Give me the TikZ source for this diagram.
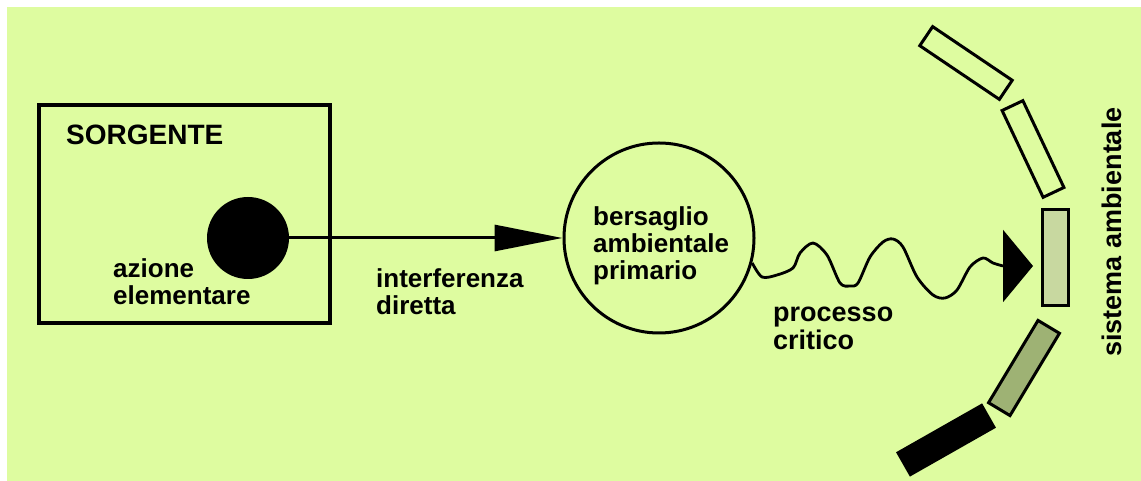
\documentclass[tikz,border=0pt]{standalone}
\usepackage{fontspec}
\setmainfont{Liberation Sans}
\usetikzlibrary{arrows.meta, calc, positioning}
\definecolor{paper}{RGB}{222,252,160}
\definecolor{tint}{RGB}{200,216,160}
\definecolor{shade}{RGB}{158,178,116}

\begin{document}
\begin{tikzpicture}[x=1pt, y=1pt, >=stealth,
  lbl/.style={font=\fontsize{26}{27}\selectfont\bfseries, inner sep=0pt, align=left},
  slab/.style={draw, line width=3pt, minimum width=96pt, minimum height=23pt, inner sep=0pt}]
% background
\fill[white] (0,0) rectangle (1141,481);
\fill[paper] (7,0) rectangle (1141,474);
\useasboundingbox (0,0) rectangle (1141,481);
% source
\node[draw, line width=4.5pt, minimum width=291pt, minimum height=218pt, inner sep=0pt] (sorgente) at (184.5,267) {};
\node[lbl, font=\fontsize{28}{28}\selectfont\bfseries, anchor=base west] (titolo) at (66,336) {SORGENTE};
\node[circle, fill, minimum size=82pt, inner sep=0pt] (azione) at (248,243) {};
\node[lbl, anchor=base west] (azlbl) at (113,176) {azione\\elementare};
% primary target
\node[circle, draw, line width=3pt, minimum size=190pt, inner sep=0pt] (bersaglio) at (659,243) {};
\node[lbl, anchor=base west] (bslbl) at (593,201) {bersaglio\\ambientale\\primario};
\draw[line width=3pt, -{Triangle[length=68pt, width=26pt]}] (azione.east) -- (bersaglio.west);
\node[lbl, anchor=base west] (intlbl) at (376,166) {interferenza\\diretta};
% critical process
\coordinate (onda) at (1003,215);
\coordinate (hit) at (1033,215);
\draw[line width=2.8pt, line join=round]
  plot[smooth, tension=0.5] coordinates {(bersaglio.-15) (762,204) (777,206) (793,213) (800,228)
  (813,238) (827,226) (840,198) (850,195) (858,198) (870,224) (883,239) (893,242) (903,234)
  (917,204) (933,186) (945,183) (957,191) (970,214) (983,223) (993,218) (onda)};
\draw[line width=2.8pt, -{Triangle[length=30pt, width=72pt]}] (onda) -- (hit);
\node[lbl, font=\fontsize{27}{28}\selectfont\bfseries, anchor=base west] (proclbl) at (773,131) {processo\\critico};
% environmental system
\node[slab, rotate=-34] (s1) at (966,418) {};
\node[slab, rotate=-64.7] (s2) at (1033,332) {};
\node[slab, fill=tint, minimum height=26pt, rotate=90] (s3) at (1055,223.5) {};
\node[slab, fill=shade, minimum height=25pt, rotate=59] (s4) at (1024,113) {};
\node[slab, fill=black, minimum height=25pt, rotate=29.6] (s5) at (946,41) {};
\node[lbl, font=\fontsize{27}{28}\selectfont\bfseries, rotate=90] (sistema) at (1112,249) {sistema ambientale};
\end{tikzpicture}
\end{document}
